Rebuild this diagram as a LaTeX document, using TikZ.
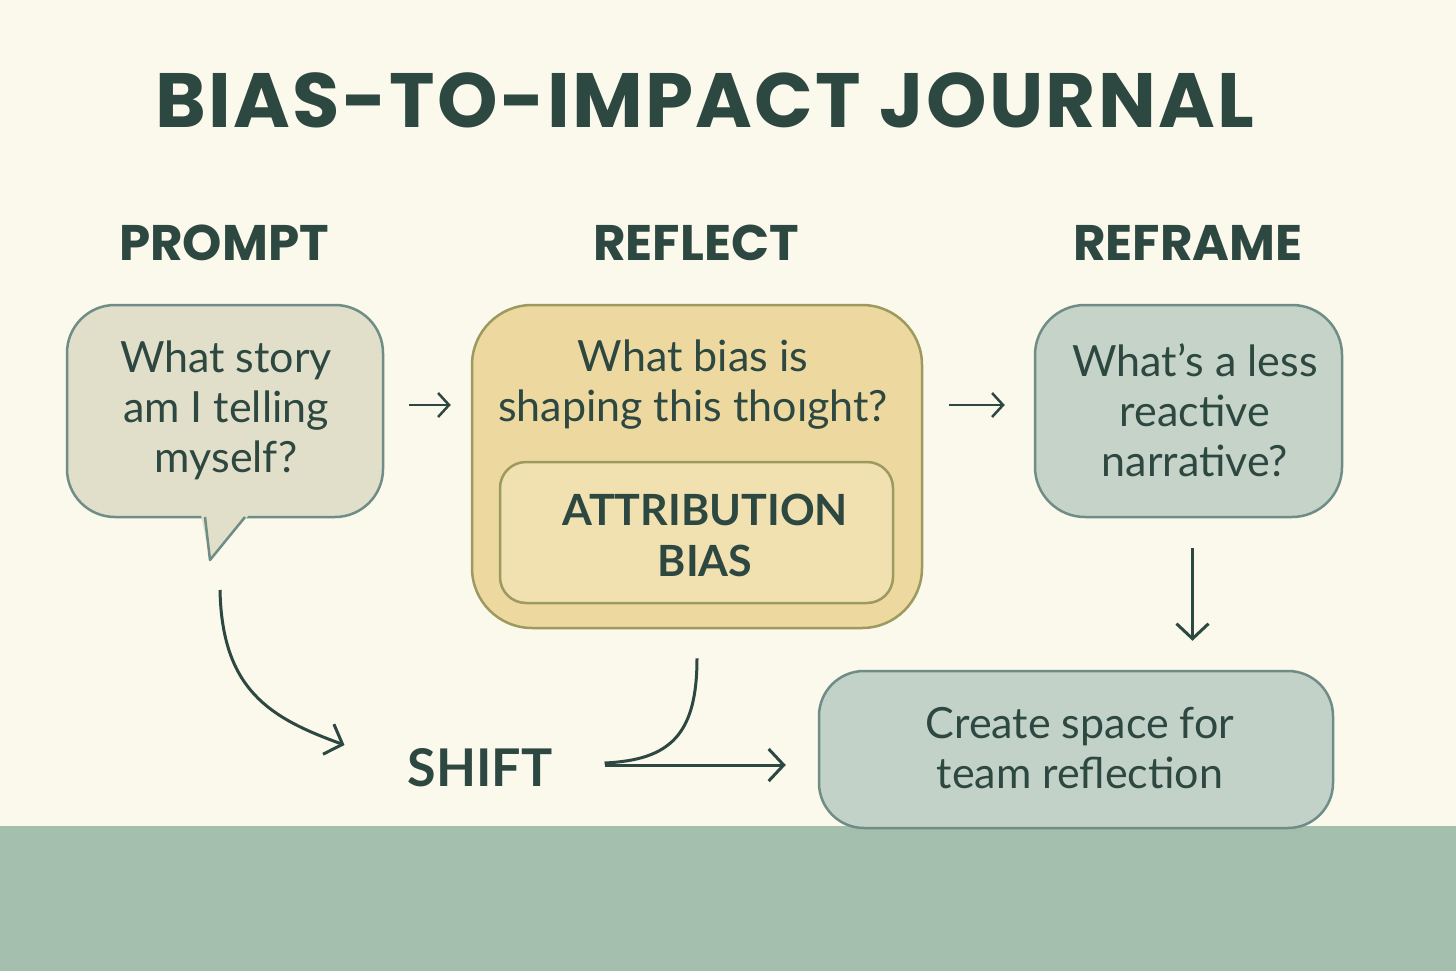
\documentclass[tikz,border=0pt]{standalone}
\usepackage{fontspec}
\setmainfont{Lato}
\newfontfamily\headfont{Poppins}
\newfontfamily\titlefont[LetterSpace=3]{Poppins}
\usetikzlibrary{arrows.meta}
\definecolor{bg}{HTML}{FBF8EC}
\definecolor{band}{HTML}{A4BFAE}
\definecolor{ink}{HTML}{2D4741}
\definecolor{bubblefill}{HTML}{E1DFCA}
\definecolor{tealline}{HTML}{6F8D86}
\definecolor{reflectfill}{HTML}{EDD8A0}
\definecolor{oliveline}{HTML}{9C9A5E}
\definecolor{innerfill}{HTML}{F1E0B0}
\definecolor{reframefill}{HTML}{C6D3C8}
\definecolor{bottomfill}{HTML}{C3D2C9}
\begin{document}
\begin{tikzpicture}[x=1pt,y=-1pt,
  boxstyle/.style={draw, line width=2.5pt, inner sep=0pt},
  bodytext/.style={text=ink, align=center, font=\fontsize{43}{50}\selectfont, inner sep=0pt},
  headtext/.style={text=ink, font=\headfont\bfseries\fontsize{50}{60}\selectfont, inner sep=0pt},
  boldtext/.style={text=ink, align=center, font=\bfseries\fontsize{43}{51}\selectfont, inner sep=0pt},
  arr/.style={draw=ink, line width=3pt, -{Straight Barb[length=15pt,width=32pt,line width=3pt]}},
  smallarr/.style={draw=ink, line width=2.5pt, -{Straight Barb[length=11pt,width=24pt,line width=2.5pt]}},
  plainline/.style={draw=ink, line width=3pt}
]
\useasboundingbox (0,0) rectangle (1456,971);
\fill[bg] (0,0) rectangle (1456,971);
\fill[band] (0,826) rectangle (1456,971);

% title
\node[text=ink, font=\titlefont\bfseries\fontsize{77}{80}\selectfont, inner sep=0pt] (title) at (705,100) {BIAS-TO-IMPACT JOURNAL};

% column heads
\node[headtext] (hprompt) at (224,243) {PROMPT};
\node[headtext] (hreflect) at (696,243) {REFLECT};
\node[headtext] (hreframe) at (1188,243) {REFRAME};

% speech bubble
\node[boxstyle, draw=tealline, fill=bubblefill, rounded corners=48pt, minimum width=316pt, minimum height=212pt] (bubble) at (225,411) {};
\coordinate (tailtip) at (210,560);
\fill[bubblefill] (201,515) -- (tailtip) -- (249,515) -- cycle;
\draw[tealline, line width=2.5pt, line join=round] (205,517) -- (tailtip) -- (245,517);
\node[bodytext] (prompttxt) at (226,410) {What story\\am I telling\\myself?};

% reflect box
\node[boxstyle, draw=oliveline, fill=reflectfill, rounded corners=60pt, minimum width=450pt, minimum height=323pt] (reflect) at (697,466.5) {};
\node[bodytext] (reflecttxt) at (693,385) {What bias is\\shaping this thoıght?};
\node[boxstyle, draw=oliveline, fill=innerfill, rounded corners=26pt, minimum width=393pt, minimum height=141pt] (inner) at (696.5,532.5) {};
\node[boldtext] (attrib) at (705,535) {ATTRIBUTION\\BIAS};

% reframe box
\node[boxstyle, draw=tealline, fill=reframefill, rounded corners=50pt, minimum width=307pt, minimum height=212pt] (reframe) at (1188.5,411) {};
\node[bodytext] (reframetxt) at (1195,410) {What’s a less\\reactive\\narrative?};

% bottom box
\node[boxstyle, draw=tealline, fill=bottomfill, rounded corners=45pt, minimum width=514pt, minimum height=157pt] (bottom) at (1076,749.5) {};
\node[bodytext] (bottomtxt) at (1080,748) {Create space for\\team reflection};

% shift
\node[text=ink, font=\bfseries\fontsize{52}{56}\selectfont, inner sep=0pt] (shift) at (480,768) {SHIFT};

% arrows
\draw[smallarr, shorten <=25pt, shorten >=20pt] ([yshift=6pt]bubble.east) -- ([yshift=6pt]bubble.east -| reflect.west);
\draw[smallarr, shorten <=26pt, shorten >=29pt] ([yshift=6pt]reframe.west -| reflect.east) -- ([yshift=6pt]reframe.west);
\draw[arr, shorten <=30pt, shorten >=29pt] ([xshift=4pt]reframe.south) -- ([xshift=4pt]reframe.south |- bottom.north);

\coordinate (c1s) at ([xshift=10pt,yshift=-30pt]tailtip);
\coordinate (c1e) at ([xshift=-63pt,yshift=23pt]shift.west);
\draw[arr] (c1s) .. controls (222,690) and (270,718) .. (c1e);

\coordinate (c2s) at ([yshift=-29pt]reflect.south);
\coordinate (join) at ([xshift=52pt,yshift=3pt]shift.east);
\draw[plainline] (c2s) .. controls (697,735) and (670,760) .. ([yshift=2pt]join);
\draw[arr, shorten >=32pt] (join) -- (join -| bottom.west);
\end{tikzpicture}
\end{document}
